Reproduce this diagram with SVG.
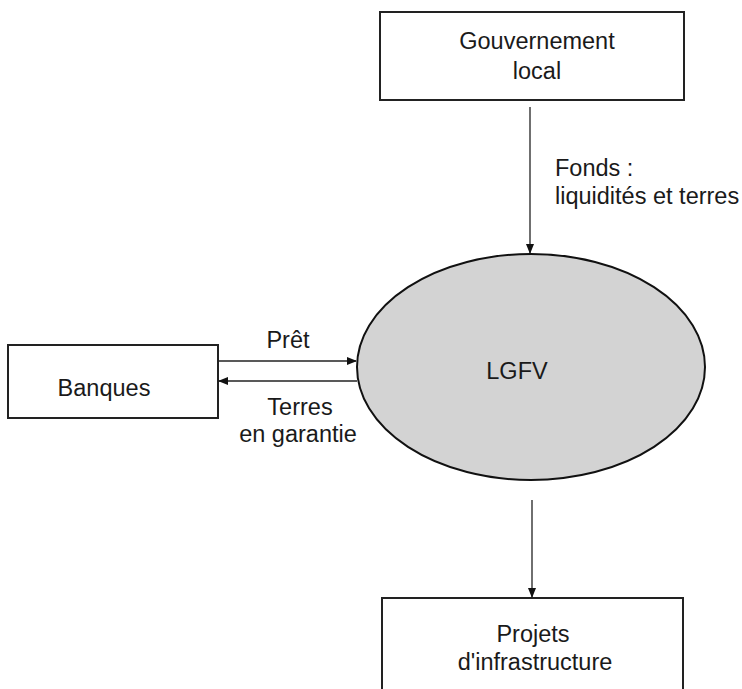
<svg xmlns="http://www.w3.org/2000/svg" width="742" height="689" viewBox="0 0 742 689">
<style>
text{font-family:"Liberation Sans",Arial,sans-serif;font-size:23.5px;fill:#1a1a1a}
.c{text-anchor:middle}
.box{fill:#fff;stroke:#222;stroke-width:2}
.ln{stroke:#222;stroke-width:1.3;fill:none}
</style>
<defs>
<marker id="ah" markerWidth="10" markerHeight="10" refX="9" refY="5" orient="auto" markerUnits="userSpaceOnUse">
<path d="M0,1 L10,5 L0,9 Z" fill="#111"/>
</marker>
</defs>
<rect width="742" height="689" fill="#fff"/>
<g id="gouv">
<rect class="box" x="380" y="12" width="304" height="88"/>
<text class="c" x="537" y="49">Gouvernement</text>
<text class="c" x="537" y="79">local</text>
</g>
<g id="lgfv">
<ellipse cx="531" cy="367" rx="174" ry="113" fill="#d3d3d3" stroke="#111" stroke-width="2"/>
<text class="c" x="517" y="379">LGFV</text>
</g>
<g id="banques">
<rect class="box" x="8" y="345" width="210" height="73"/>
<text class="c" x="104" y="396">Banques</text>
</g>
<g id="projets">
<rect class="box" x="382" y="598" width="301" height="100"/>
<text class="c" x="533" y="642">Projets</text>
<text class="c" x="535" y="670">d'infrastructure</text>
</g>
<g id="connectors">
<line class="ln" x1="530" y1="107" x2="530" y2="253" marker-end="url(#ah)"/>
<line class="ln" x1="218" y1="361" x2="356" y2="361" marker-end="url(#ah)"/>
<line class="ln" x1="357" y1="381" x2="219" y2="381" marker-end="url(#ah)"/>
<line class="ln" x1="532" y1="500" x2="532" y2="597" marker-end="url(#ah)"/>
<text x="555" y="176">Fonds :</text>
<text x="555" y="204">liquidités et terres</text>
<text class="c" x="288" y="348">Prêt</text>
<text class="c" x="300" y="415">Terres</text>
<text class="c" x="298" y="442">en garantie</text>
</g>
</svg>
